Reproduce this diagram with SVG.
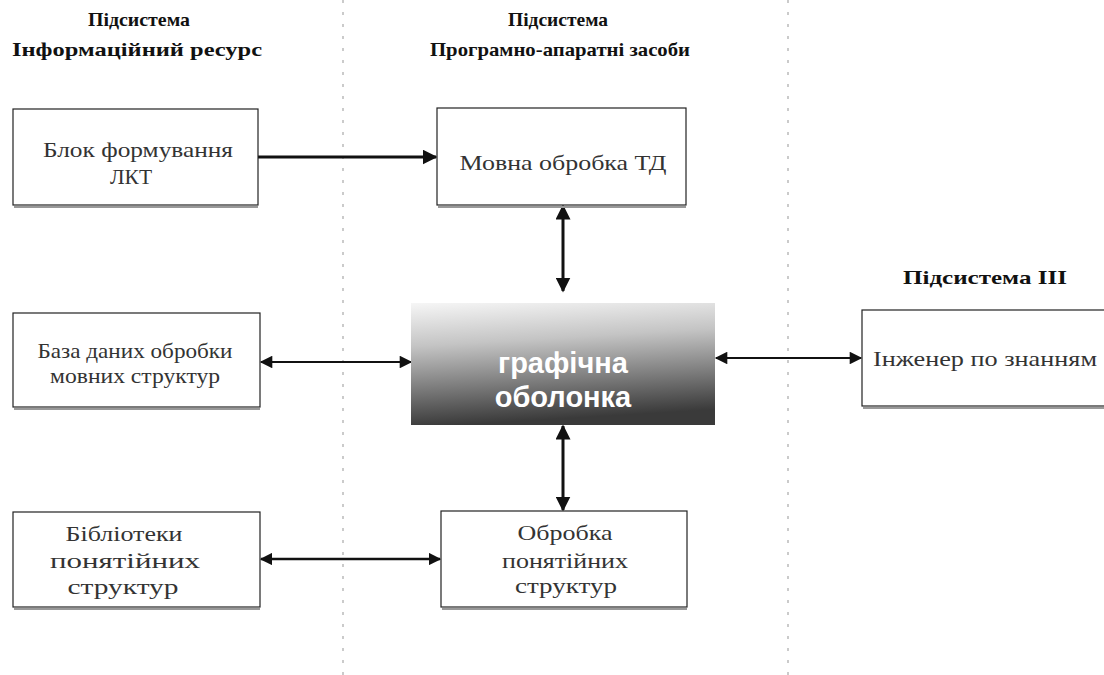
<svg xmlns="http://www.w3.org/2000/svg" width="1104" height="675" viewBox="0 0 1104 675">
<style>
.box{fill:#fff;stroke:#222;stroke-width:1.2}
.sh{fill:none;stroke:#999;stroke-width:2}
.t{font-family:"Liberation Serif",serif;font-size:21px;fill:#333;text-anchor:middle}
.h{font-family:"Liberation Serif",serif;font-size:19px;font-weight:bold;fill:#111;text-anchor:middle}
.c{font-family:"Liberation Sans",sans-serif;font-size:29px;font-weight:bold;fill:#fff;text-anchor:middle}
.sep{stroke:#bbb;stroke-width:1.5;stroke-dasharray:3 9}
.l{stroke:#111;fill:none}
</style>
<defs>
<marker id="ah" viewBox="0 0 10 10" refX="9" refY="5" markerWidth="5" markerHeight="5" orient="auto-start-reverse" markerUnits="strokeWidth">
<path d="M0,0 L10,5 L0,10 z" fill="#111"/>
</marker>
<marker id="ahs" viewBox="0 0 10 10" refX="9" refY="5" markerWidth="8" markerHeight="7" orient="auto-start-reverse" markerUnits="strokeWidth">
<path d="M0,0 L10,5 L0,10 z" fill="#111"/>
</marker>
<linearGradient id="g" x1="0" y1="0" x2="0.15" y2="1">
<stop offset="0" stop-color="#f6f6f6"/>
<stop offset="0.35" stop-color="#c4c4c4"/>
<stop offset="0.7" stop-color="#7a7a7a"/>
<stop offset="1" stop-color="#3a3a3a"/>
</linearGradient>
</defs>
<g id="separators">
<line class="sep" x1="343" y1="0" x2="343" y2="675"/>
<line class="sep" x1="788" y1="0" x2="788" y2="675"/>
</g>
<g id="headers">
<text class="h" x="139" y="26" textLength="102" lengthAdjust="spacingAndGlyphs">Підсистема</text>
<text class="h" x="137" y="56" textLength="250" lengthAdjust="spacingAndGlyphs">Інформаційний ресурс</text>
<text class="h" x="558" y="26" textLength="100" lengthAdjust="spacingAndGlyphs">Підсистема</text>
<text class="h" x="560" y="56" textLength="260" lengthAdjust="spacingAndGlyphs">Програмно-апаратні засоби</text>
<text class="h" x="985" y="284" textLength="164" lengthAdjust="spacingAndGlyphs">Підсистема ІІІ</text>
</g>
<g id="connectors">
<line class="l" x1="258" y1="157" x2="436" y2="157" stroke-width="3" marker-end="url(#ah)"/>
<line class="l" x1="563" y1="206" x2="563" y2="291" stroke-width="3" marker-start="url(#ah)" marker-end="url(#ah)"/>
<line class="l" x1="261" y1="362" x2="411" y2="362" stroke-width="1.8" marker-start="url(#ahs)" marker-end="url(#ahs)"/>
<line class="l" x1="716" y1="358" x2="861" y2="358" stroke-width="1.8" marker-start="url(#ahs)" marker-end="url(#ahs)"/>
<line class="l" x1="563" y1="426" x2="563" y2="510" stroke-width="3" marker-start="url(#ah)" marker-end="url(#ah)"/>
<line class="l" x1="261" y1="559" x2="440" y2="559" stroke-width="2.5" marker-start="url(#ah)" marker-end="url(#ah)"/>
</g>
<g id="blok-lkt">
<rect class="box" x="13" y="109" width="245" height="96"/>
<line class="sh" x1="14" y1="207" x2="258" y2="207"/>
<text class="t" x="138" y="157" textLength="190" lengthAdjust="spacingAndGlyphs">Блок формування</text>
<text class="t" x="131" y="184" textLength="42" lengthAdjust="spacingAndGlyphs">ЛКТ</text>
</g>
<g id="movna">
<rect class="box" x="437" y="108" width="249" height="97"/>
<line class="sh" x1="438" y1="207" x2="686" y2="207"/>
<text class="t" x="563" y="170" textLength="207" lengthAdjust="spacingAndGlyphs">Мовна обробка ТД</text>
</g>
<g id="baza">
<rect class="box" x="13" y="313" width="247" height="94"/>
<line class="sh" x1="14" y1="409" x2="260" y2="409"/>
<text class="t" x="135" y="358" textLength="195" lengthAdjust="spacingAndGlyphs">База даних обробки</text>
<text class="t" x="135" y="383" textLength="170" lengthAdjust="spacingAndGlyphs">мовних структур</text>
</g>
<g id="obolonka">
<rect x="411" y="303" width="304" height="122" fill="url(#g)"/>
<text class="c" x="563" y="373">графічна</text>
<text class="c" x="563" y="407">оболонка</text>
</g>
<g id="inzhener">
<rect class="box" x="862" y="310" width="250" height="96"/>
<line class="sh" x1="863" y1="408" x2="1104" y2="408"/>
<text class="t" x="985" y="366" textLength="224" lengthAdjust="spacingAndGlyphs">Інженер по знанням</text>
</g>
<g id="biblioteky">
<rect class="box" x="13" y="512" width="247" height="95"/>
<line class="sh" x1="14" y1="609" x2="260" y2="609"/>
<text class="t" x="124" y="541" textLength="117" lengthAdjust="spacingAndGlyphs">Бібліотеки</text>
<text class="t" x="125" y="568" textLength="150" lengthAdjust="spacingAndGlyphs">понятійних</text>
<text class="t" x="123" y="594" textLength="111" lengthAdjust="spacingAndGlyphs">структур</text>
</g>
<g id="obrobka">
<rect class="box" x="441" y="511" width="246" height="96"/>
<line class="sh" x1="442" y1="609" x2="687" y2="609"/>
<text class="t" x="565" y="540" textLength="95" lengthAdjust="spacingAndGlyphs">Обробка</text>
<text class="t" x="565" y="568" textLength="126" lengthAdjust="spacingAndGlyphs">понятійних</text>
<text class="t" x="566" y="593" textLength="102" lengthAdjust="spacingAndGlyphs">структур</text>
</g>
</svg>
